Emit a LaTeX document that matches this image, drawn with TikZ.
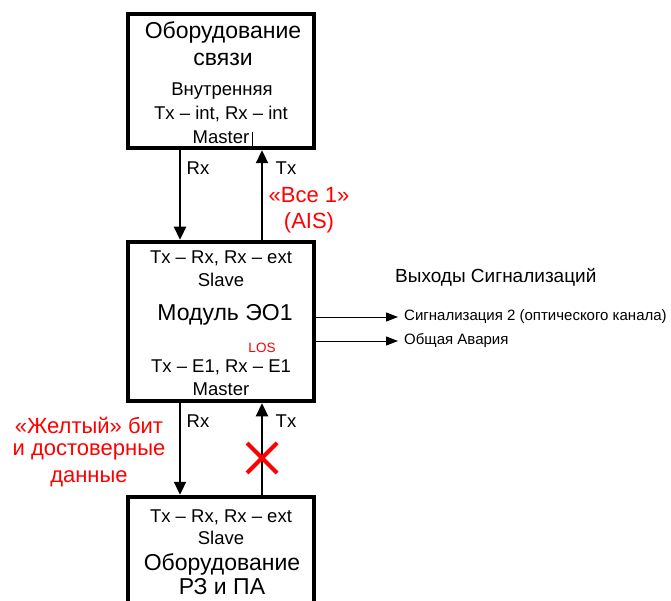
\documentclass[tikz,border=0pt]{standalone}
\usepackage{fontspec}
\setmainfont{Liberation Sans}
\usetikzlibrary{arrows.meta,calc}
\begin{document}
\begin{tikzpicture}[x=1pt,y=-1pt,
  box/.style={draw,line width=4.5pt,minimum width=186pt,inner sep=0pt},
  big/.style={font=\fontsize{23}{27}\selectfont,inner sep=0pt,anchor=center},
  mid/.style={font=\fontsize{18.5}{22}\selectfont,inner sep=0pt,anchor=center},
  sm/.style={font=\fontsize{15}{18}\selectfont,inner sep=0pt,anchor=west},
  redt/.style={font=\fontsize{22}{26}\selectfont,text=red,inner sep=0pt,anchor=center},
  arr/.style={line width=2.3pt,-{Triangle[length=13pt,width=12pt]}},
  thinarr/.style={line width=1pt,-{Triangle[length=12pt,width=9pt]}}]
\useasboundingbox (0,0) rectangle (671,601);
\clip (0,0) rectangle (671,601);
% boxes
\node[box,minimum height=134pt] (top) at (221,81) {};
\node[box,minimum height=159pt] (modul) at (221,321.5) {};
\node[box,minimum height=150pt] (bot) at (221,572) {};
% top box text
\node[big] (t1) at (223,32) {Оборудование};
\node[big] (t2) at (223,59) {связи};
\node[mid] (t3) at (222,91) {Внутренняя};
\node[mid] (t4) at (221,114) {Tx – int, Rx – int};
\node[mid] (t5) at (221,137) {Master};
\draw[line width=0.6pt] (252,132) -- (252,148);
% middle box text
\node[mid] (m1) at (221,258) {Tx – Rx, Rx – ext};
\node[mid] (m2) at (221,280) {Slave};
\node[big] (m3) at (225,315) {Модуль ЭО1};
\node[font=\fontsize{13.5}{16}\selectfont,text=red,inner sep=0pt] (los) at (262,348) {LOS};
\node[mid] (m4) at (221,367) {Tx – E1, Rx – E1};
\node[mid] (m5) at (221,389) {Master};
% bottom box text
\node[mid] (b1) at (221,517) {Tx – Rx, Rx – ext};
\node[mid] (b2) at (221,538) {Slave};
\node[big] (b3) at (222,564) {Оборудование};
\node[big] (b4) at (222,587) {РЗ и ПА};
% vertical link positions
\coordinate (xr) at (180,0);
\coordinate (xt) at (262,0);
\draw[arr] (top.south -| xr) -- (modul.north -| xr);
\draw[arr] (modul.north -| xt) -- (top.south -| xt);
\draw[arr] (modul.south -| xr) -- (bot.north -| xr);
\draw[arr] (bot.north -| xt) -- (modul.south -| xt);
% link labels
\node[mid] (l1) at (198,168) {Rx};
\node[mid] (l2) at (286,168) {Tx};
\node[mid] (l3) at (198,421) {Rx};
\node[mid] (l4) at (286,421) {Tx};
\node[redt] (ais1) at (309,195) {«Все 1»};
\node[redt] (ais2) at (309,223) {(AIS)};
\node[redt] (y1) at (89,425) {«Желтый» бит};
\node[redt] (y2) at (89,452) {и достоверные};
\node[redt] (y3) at (89,479) {данные};
% red cross
\coordinate (xc) at (262,458);
\draw[red,line width=4pt] ($(xc)+(-15,-15)$) -- ($(xc)+(15,15)$);
\draw[red,line width=4pt] ($(xc)+(-15,15)$) -- ($(xc)+(15,-15)$);
% outputs
\node[font=\fontsize{19}{22}\selectfont,inner sep=0pt,anchor=west] (vy) at (395,277) {Выходы Сигнализаций};
\node[sm] (o1) at (404,317) {Сигнализация 2 (оптического канала)};
\node[sm] (o2) at (404,341) {Общая Авария};
\draw[thinarr] (modul.east |- o1.west) -- ([xshift=-6pt]o1.west);
\draw[thinarr] (modul.east |- o2.west) -- ([xshift=-6pt]o2.west);
\end{tikzpicture}
\end{document}
